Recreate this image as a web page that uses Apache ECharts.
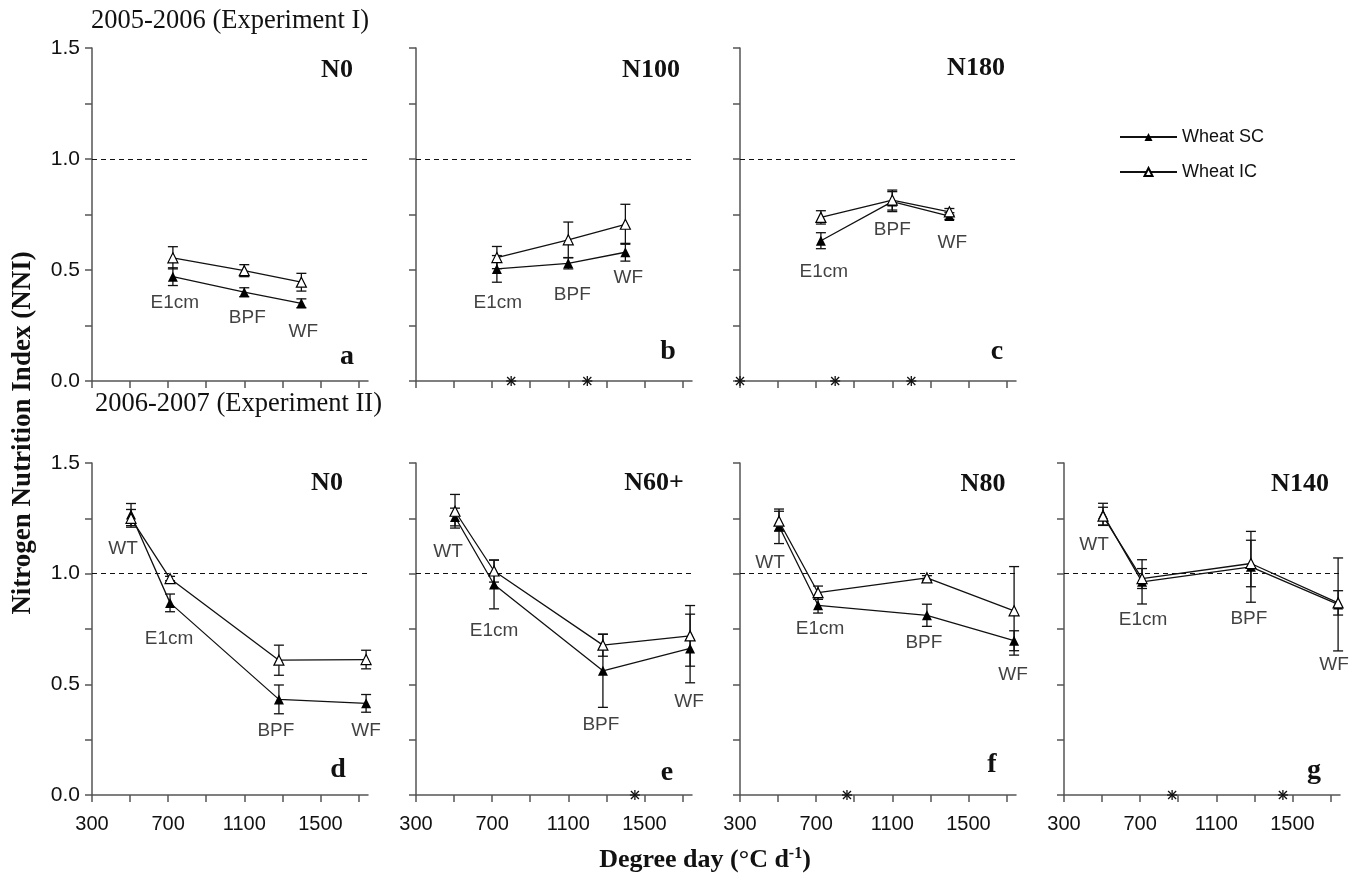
<!DOCTYPE html>
<html><head><meta charset="utf-8">
<script src="https://cdn.jsdelivr.net/npm/echarts@6/dist/echarts.min.js"></script>
<style>html,body{margin:0;padding:0;background:#fff}#c{width:1350px;height:887px}</style>
</head><body><div id="c"></div>
<script>
// ---------- DATA ----------
const exp1Stages = ['E1cm', 'BPF', 'WF'];
const exp1DegreeDays = [725, 1100, 1400];
const exp2Stages = ['WT', 'E1cm', 'BPF', 'WF'];
const exp2DegreeDays = [505, 710, 1282, 1740];

const xTickValues = [300, 500, 700, 900, 1100, 1300, 1500, 1700];
const xTickLabels = [300, 700, 1100, 1500];
const yTickLabels = [0, 0.5, 1.0, 1.5];

// 2005-2006, N0 (a)
const aSC = [0.47, 0.40, 0.35];      const aSCerr = [0.04, 0.02, 0.02];
const aIC = [0.555, 0.497, 0.445];   const aICerr = [0.05, 0.027, 0.04];
const aStars = [];
// 2005-2006, N100 (b)
const bSC = [0.505, 0.53, 0.58];     const bSCerr = [0.06, 0.025, 0.04];
const bIC = [0.556, 0.636, 0.706];   const bICerr = [0.05, 0.08, 0.09];
const bStars = [800, 1200];
// 2005-2006, N180 (c)
const cSC = [0.632, 0.808, 0.743];   const cSCerr = [0.036, 0.045, 0.015];
const cIC = [0.737, 0.815, 0.762];   const cICerr = [0.03, 0.045, 0.015];
const cStars = [300, 800, 1200];
// 2006-2007, N0 (d)
const dSC = [1.267, 0.868, 0.432, 0.414]; const dSCerr = [0.05, 0.04, 0.065, 0.04];
const dIC = [1.25, 0.978, 0.609, 0.612];  const dICerr = [0.04, 0.01, 0.068, 0.042];
const dStars = [];
// 2006-2007, N60+ (e)
const eSC = [1.256, 0.951, 0.561, 0.662]; const eSCerr = [0.04, 0.11, 0.165, 0.155];
const eIC = [1.282, 1.012, 0.677, 0.719]; const eICerr = [0.076, 0.05, 0.05, 0.137];
const eStars = [1450];
// 2006-2007, N80 (f)
const fSC = [1.214, 0.857, 0.812, 0.697]; const fSCerr = [0.078, 0.035, 0.05, 0.045];
const fIC = [1.237, 0.914, 0.981, 0.832]; const fICerr = [0.045, 0.03, 0.01, 0.2];
const fStars = [862];
// 2006-2007, N140 (g)
const gSC = [1.268, 0.963, 1.031, 0.861]; const gSCerr = [0.05, 0.1, 0.16, 0.21];
const gIC = [1.26, 0.978, 1.046, 0.868];  const gICerr = [0.04, 0.045, 0.105, 0.055];
const gStars = [868, 1450];

// ---------- LAYOUT ----------
const panels = [
  {title:'N0', letter:'a', stages:exp1Stages, dd:exp1DegreeDays, sc:aSC, scErr:aSCerr, ic:aIC, icErr:aICerr, stars:aStars,
   grid:{left:92, top:48, width:276, height:333}, bottom:false, firstCol:true,
   titlePos:[337,70], letterPos:[347,357], labelOff:[[2,26],[3,26],[2,28]]},
  {title:'N100', letter:'b', stages:exp1Stages, dd:exp1DegreeDays, sc:bSC, scErr:bSCerr, ic:bIC, icErr:bICerr, stars:bStars,
   grid:{left:416, top:48, width:276, height:333}, bottom:false, firstCol:false,
   titlePos:[651,70], letterPos:[668,352], labelOff:[[1,34],[4,31],[3,26]]},
  {title:'N180', letter:'c', stages:exp1Stages, dd:exp1DegreeDays, sc:cSC, scErr:cSCerr, ic:cIC, icErr:cICerr, stars:cStars,
   grid:{left:740, top:48, width:276, height:333}, bottom:false, firstCol:false,
   titlePos:[976,68], letterPos:[997,352], labelOff:[[3,31],[0,28],[3,27]]},
  {title:'N0', letter:'d', stages:exp2Stages, dd:exp2DegreeDays, sc:dSC, scErr:dSCerr, ic:dIC, icErr:dICerr, stars:dStars,
   grid:{left:92, top:463, width:276, height:332}, bottom:true, firstCol:true,
   titlePos:[327,483], letterPos:[338,770], labelOff:[[-8,34],[-1,36],[-3,31],[0,27]]},
  {title:'N60+', letter:'e', stages:exp2Stages, dd:exp2DegreeDays, sc:eSC, scErr:eSCerr, ic:eIC, icErr:eICerr, stars:eStars,
   grid:{left:416, top:463, width:276, height:332}, bottom:true, firstCol:false,
   titlePos:[654,483], letterPos:[667,773], labelOff:[[-7,35],[0,46],[-2,54],[-1,53]]},
  {title:'N80', letter:'f', stages:exp2Stages, dd:exp2DegreeDays, sc:fSC, scErr:fSCerr, ic:fIC, icErr:fICerr, stars:fStars,
   grid:{left:740, top:463, width:276, height:332}, bottom:true, firstCol:false,
   titlePos:[983,484], letterPos:[992,765], labelOff:[[-9,36],[2,23],[-3,27],[-1,34]]},
  {title:'N140', letter:'g', stages:exp2Stages, dd:exp2DegreeDays, sc:gSC, scErr:gSCerr, ic:gIC, icErr:gICerr, stars:gStars,
   grid:{left:1064, top:463, width:276, height:332}, bottom:true, firstCol:false,
   titlePos:[1300,484], letterPos:[1314,771], labelOff:[[-9,30],[1,38],[-2,52],[-4,60]]}
];

const SANS = 'Liberation Sans, Arial, sans-serif';
const SERIF = 'Liberation Serif, Times New Roman, serif';
const AXIS_COLOR = '#555';
const INK = '#111';
const TEXT = '#111';

function errRender(params, api) {
  const x = api.value(0), y = api.value(1), e = api.value(2);
  const t = api.coord([x, y + e]), b = api.coord([x, y - e]);
  const w = 5, st = {stroke: INK, lineWidth: 1.3};
  return {type: 'group', children: [
    {type: 'line', shape: {x1: t[0], y1: t[1], x2: b[0], y2: b[1]}, style: st},
    {type: 'line', shape: {x1: t[0] - w, y1: t[1], x2: t[0] + w, y2: t[1]}, style: st},
    {type: 'line', shape: {x1: b[0] - w, y1: b[1], x2: b[0] + w, y2: b[1]}, style: st}
  ]};
}
function starRender(params, api) {
  const c = api.coord([api.value(0), api.value(1)]);
  const r = 4, st = {stroke: INK, lineWidth: 1.3};
  return {type: 'group', children: [
    {type: 'line', shape: {x1: c[0] - r, y1: c[1] - r, x2: c[0] + r, y2: c[1] + r}, style: st},
    {type: 'line', shape: {x1: c[0] - r, y1: c[1] + r, x2: c[0] + r, y2: c[1] - r}, style: st},
    {type: 'line', shape: {x1: c[0], y1: c[1] - r - 1, x2: c[0], y2: c[1] + r + 1}, style: st},
    {type: 'line', shape: {x1: c[0] - r - 1, y1: c[1], x2: c[0] + r + 1, y2: c[1]}, style: st}
  ]};
}

const grid = [], xAxis = [], yAxis = [], series = [], graphic = [];
panels.forEach((p, i) => {
  grid.push(p.grid);
  xAxis.push({
    type: 'value', gridIndex: i, min: 300, max: 1750,
    axisLine: {show: true, onZero: false, lineStyle: {color: AXIS_COLOR, width: 1.5}},
    axisTick: {show: true, length: 7, customValues: xTickValues, lineStyle: {color: AXIS_COLOR, width: 1.5}},
    axisLabel: {show: p.bottom, customValues: xTickLabels, formatter: v => String(v),
      margin: 19, fontSize: 20, fontFamily: SANS, color: TEXT},
    splitLine: {show: false}
  });
  yAxis.push({
    type: 'value', gridIndex: i, min: 0, max: 1.5, interval: 0.25,
    axisLine: {show: true, lineStyle: {color: AXIS_COLOR, width: 1.5}},
    axisTick: {show: true, length: 7, lineStyle: {color: AXIS_COLOR, width: 1.5}},
    axisLabel: {show: p.firstCol, customValues: yTickLabels, formatter: v => v.toFixed(1),
      margin: 12, fontSize: 21, fontFamily: SANS, color: TEXT},
    splitLine: {show: false}
  });
  // error bars
  series.push({type: 'custom', xAxisIndex: i, yAxisIndex: i, silent: true, z: 2, clip: false,
    encode: {x: 0, y: 1}, renderItem: errRender,
    data: p.dd.map((x, k) => [x, p.sc[k], p.scErr[k]])});
  series.push({type: 'custom', xAxisIndex: i, yAxisIndex: i, silent: true, z: 2, clip: false,
    encode: {x: 0, y: 1}, renderItem: errRender,
    data: p.dd.map((x, k) => [x, p.ic[k], p.icErr[k]])});
  // lines
  series.push({type: 'line', name: 'Wheat SC', xAxisIndex: i, yAxisIndex: i, z: 4,
    data: p.dd.map((x, k) => [x, p.sc[k]]),
    symbol: 'triangle', symbolSize: 10, showAllSymbol: true,
    itemStyle: {color: '#000'}, lineStyle: {color: INK, width: 1.3},
    markLine: {silent: true, symbol: 'none', label: {show: false},
      lineStyle: {type: [5, 4], color: INK, width: 1.2}, data: [{yAxis: 1}]}
  });
  series.push({type: 'line', name: 'Wheat IC', xAxisIndex: i, yAxisIndex: i, z: 5,
    data: p.dd.map((x, k) => [x, p.ic[k]]),
    symbol: 'triangle', symbolSize: 10, showAllSymbol: true,
    itemStyle: {color: '#fff', borderColor: '#000', borderWidth: 1.2}, lineStyle: {color: INK, width: 1.3}
  });
  // stage labels
  series.push({type: 'scatter', xAxisIndex: i, yAxisIndex: i, silent: true, z: 6,
    symbolSize: 1, itemStyle: {color: 'rgba(0,0,0,0)'},
    data: p.dd.map((x, k) => ({value: [x, p.sc[k]], name: p.stages[k],
      label: {offset: p.labelOff[k]}})),
    label: {show: true, position: 'inside', formatter: '{b}', fontSize: 19, fontFamily: SANS, color: TEXT}
  });
  // significance stars
  if (p.stars.length) {
    series.push({type: 'custom', xAxisIndex: i, yAxisIndex: i, silent: true, z: 7, clip: false,
      encode: {x: 0, y: 1}, renderItem: starRender,
      data: p.stars.map(x => [x, 0])});
  }
  graphic.push({type: 'text', x: p.titlePos[0], y: p.titlePos[1],
    style: {text: p.title, fontSize: 26, fontWeight: 'bold', fontFamily: SERIF, fill: TEXT,
      align: 'center', verticalAlign: 'middle'}});
  graphic.push({type: 'text', x: p.letterPos[0], y: p.letterPos[1],
    style: {text: p.letter, fontSize: 28, fontWeight: 'bold', fontFamily: SERIF, fill: TEXT,
      align: 'center', verticalAlign: 'middle'}});
});

graphic.push({type: 'text', x: 91, y: 21, style: {text: '2005-2006 (Experiment I)', fontSize: 26.5,
  fontFamily: SERIF, fill: TEXT, align: 'left', verticalAlign: 'middle'}});
graphic.push({type: 'text', x: 95, y: 404, style: {text: '2006-2007 (Experiment II)', fontSize: 26.5,
  fontFamily: SERIF, fill: TEXT, align: 'left', verticalAlign: 'middle'}});
graphic.push({type: 'text', x: 23, y: 433, rotation: Math.PI / 2,
  style: {text: 'Nitrogen Nutrition Index (NNI)', fontSize: 27, fontWeight: 'bold', fontFamily: SERIF,
    fill: TEXT, align: 'center', verticalAlign: 'middle'}});
graphic.push({type: 'text', x: 705, y: 860,
  style: {text: 'Degree day (°C d{sup|-1})', fontSize: 26, fontWeight: 'bold', fontFamily: SERIF,
    fill: TEXT, align: 'center', verticalAlign: 'middle',
    rich: {sup: {fontSize: 16, fontWeight: 'bold', fontFamily: SERIF, fill: TEXT, padding: [0, 0, 12, 0]}}}});

const option = {
  animation: false,
  backgroundColor: '#fff',
  legend: {
    orient: 'vertical', left: 1114, top: 123, itemWidth: 57, itemHeight: 10, itemGap: 17,
    data: ['Wheat SC', 'Wheat IC'],
    textStyle: {fontSize: 18, fontFamily: SANS, color: TEXT}
  },
  grid, xAxis, yAxis, series, graphic
};
const chart = echarts.init(document.getElementById('c'), null, {renderer: 'canvas'});
chart.setOption(option);
</script></body></html>
